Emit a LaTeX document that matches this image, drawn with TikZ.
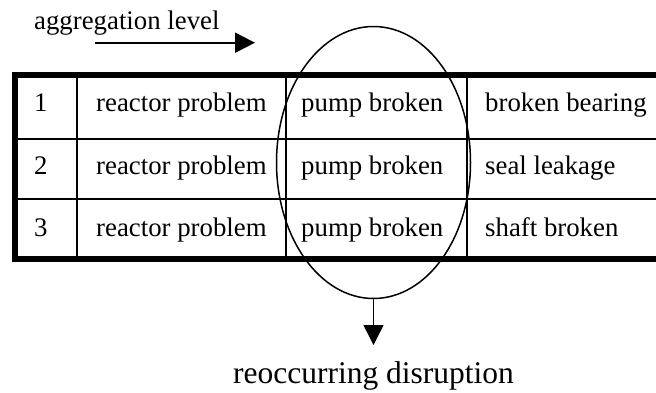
\documentclass[tikz,border=0pt]{standalone}
\usepackage{fontspec}
\setmainfont{Liberation Serif}
\usetikzlibrary{arrows.meta,shapes.geometric}
\begin{document}
\begin{tikzpicture}[x=1pt,y=-1pt,
  cell/.style={anchor=base west,inner sep=0pt,font=\fontsize{26.8}{30}\selectfont},
  frame/.style={line width=6pt},
  rule/.style={line width=2pt},
  bigtip/.style={-{Triangle[length=20pt,width=20pt]}}]
\useasboundingbox (0,0) rectangle (656,392);

% heading with its direction arrow
\node[cell] (agg) at (34,29.5) {aggregation level};
\coordinate (aggA) at (95,42.7);
\coordinate (aggB) at (255,42.7);
\draw[line width=2pt,bigtip] (aggA) -- (aggB);

% table frame (open on the right)
\draw[frame] (656,75) -- (15.3,75) -- (15.3,259) -- (656,259);
% inner rules
\draw[rule] (18,138.5) -- (656,138.5);
\draw[rule] (18,199.3) -- (656,199.3);
\foreach \cx in {77,286,467} \draw[rule] (\cx,78) -- (\cx,256);

% cell texts
\node[cell] (r1c1) at (34,111) {1};
\node[cell] (r1c2) at (96,111) {reactor problem};
\node[cell] (r1c3) at (301,111) {pump broken};
\node[cell] (r1c4) at (485,111) {broken bearing};
\node[cell] (r2c1) at (34,174) {2};
\node[cell] (r2c2) at (96,174) {reactor problem};
\node[cell] (r2c3) at (301,174) {pump broken};
\node[cell] (r2c4) at (485,174) {seal leakage};
\node[cell] (r3c1) at (34,236) {3};
\node[cell] (r3c2) at (96,236) {reactor problem};
\node[cell] (r3c3) at (301,236) {pump broken};
\node[cell] (r3c4) at (485,236) {shaft broken};

% ring around the repeated entry
\node[ellipse,draw,line width=1.5pt,inner sep=0pt,
      minimum width=194pt,minimum height=272pt] (ring) at (373.5,162.5) {};

% result
\coordinate (tip) at (373.5,345);
\draw[line width=1.5pt,bigtip] (ring.south) -- (tip);
\node[anchor=base,inner sep=0pt,font=\fontsize{31.5}{34}\selectfont]
  (res) at (373.5,383) {reoccurring disruption};
\end{tikzpicture}
\end{document}
